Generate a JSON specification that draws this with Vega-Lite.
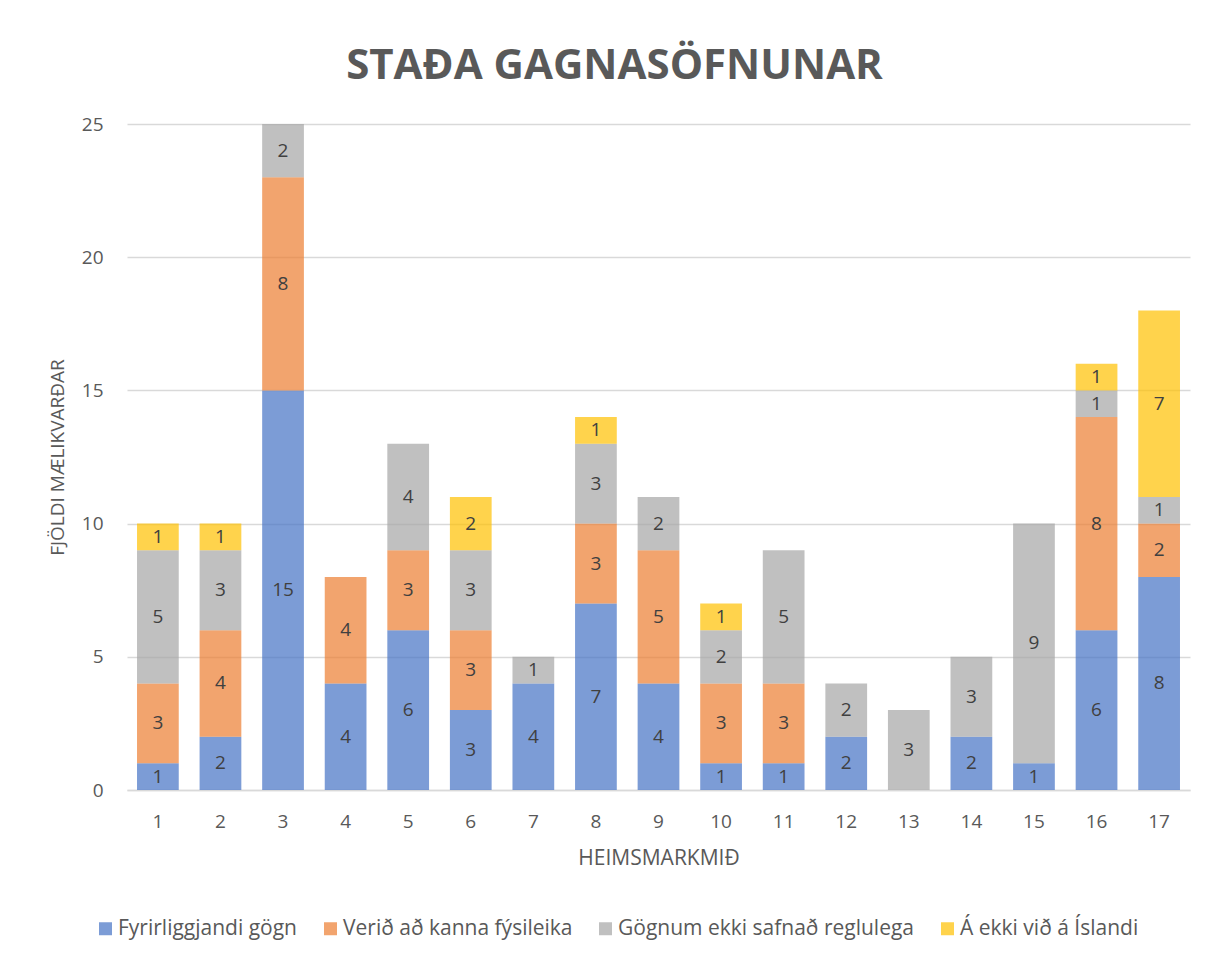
{
  "$schema": "https://vega.github.io/schema/vega-lite/v6.json",
  "width": 1063,
  "height": 666,
  "autosize": {"type": "none"},
  "padding": {"left": 127, "top": 124, "right": 31, "bottom": 170},
  "background": "white",
  "title": {
    "text": "STAÐA GAGNASÖFNUNAR",
    "font": "Open Sans",
    "fontSize": 42,
    "fontWeight": "bold",
    "color": "#595959",
    "anchor": "middle",
    "offset": 27,
    "dx": -44
  },
  "data": {
    "values": [
      {"goal": 1, "series": "Fyrirliggjandi gögn", "value": 1},
      {"goal": 1, "series": "Verið að kanna fýsileika", "value": 3},
      {"goal": 1, "series": "Gögnum ekki safnað reglulega", "value": 5},
      {"goal": 1, "series": "Á ekki við á Íslandi", "value": 1},
      {"goal": 2, "series": "Fyrirliggjandi gögn", "value": 2},
      {"goal": 2, "series": "Verið að kanna fýsileika", "value": 4},
      {"goal": 2, "series": "Gögnum ekki safnað reglulega", "value": 3},
      {"goal": 2, "series": "Á ekki við á Íslandi", "value": 1},
      {"goal": 3, "series": "Fyrirliggjandi gögn", "value": 15},
      {"goal": 3, "series": "Verið að kanna fýsileika", "value": 8},
      {"goal": 3, "series": "Gögnum ekki safnað reglulega", "value": 2},
      {"goal": 4, "series": "Fyrirliggjandi gögn", "value": 4},
      {"goal": 4, "series": "Verið að kanna fýsileika", "value": 4},
      {"goal": 5, "series": "Fyrirliggjandi gögn", "value": 6},
      {"goal": 5, "series": "Verið að kanna fýsileika", "value": 3},
      {"goal": 5, "series": "Gögnum ekki safnað reglulega", "value": 4},
      {"goal": 6, "series": "Fyrirliggjandi gögn", "value": 3},
      {"goal": 6, "series": "Verið að kanna fýsileika", "value": 3},
      {"goal": 6, "series": "Gögnum ekki safnað reglulega", "value": 3},
      {"goal": 6, "series": "Á ekki við á Íslandi", "value": 2},
      {"goal": 7, "series": "Fyrirliggjandi gögn", "value": 4},
      {"goal": 7, "series": "Gögnum ekki safnað reglulega", "value": 1},
      {"goal": 8, "series": "Fyrirliggjandi gögn", "value": 7},
      {"goal": 8, "series": "Verið að kanna fýsileika", "value": 3},
      {"goal": 8, "series": "Gögnum ekki safnað reglulega", "value": 3},
      {"goal": 8, "series": "Á ekki við á Íslandi", "value": 1},
      {"goal": 9, "series": "Fyrirliggjandi gögn", "value": 4},
      {"goal": 9, "series": "Verið að kanna fýsileika", "value": 5},
      {"goal": 9, "series": "Gögnum ekki safnað reglulega", "value": 2},
      {"goal": 10, "series": "Fyrirliggjandi gögn", "value": 1},
      {"goal": 10, "series": "Verið að kanna fýsileika", "value": 3},
      {"goal": 10, "series": "Gögnum ekki safnað reglulega", "value": 2},
      {"goal": 10, "series": "Á ekki við á Íslandi", "value": 1},
      {"goal": 11, "series": "Fyrirliggjandi gögn", "value": 1},
      {"goal": 11, "series": "Verið að kanna fýsileika", "value": 3},
      {"goal": 11, "series": "Gögnum ekki safnað reglulega", "value": 5},
      {"goal": 12, "series": "Fyrirliggjandi gögn", "value": 2},
      {"goal": 12, "series": "Gögnum ekki safnað reglulega", "value": 2},
      {"goal": 13, "series": "Gögnum ekki safnað reglulega", "value": 3},
      {"goal": 14, "series": "Fyrirliggjandi gögn", "value": 2},
      {"goal": 14, "series": "Gögnum ekki safnað reglulega", "value": 3},
      {"goal": 15, "series": "Fyrirliggjandi gögn", "value": 1},
      {"goal": 15, "series": "Gögnum ekki safnað reglulega", "value": 9},
      {"goal": 16, "series": "Fyrirliggjandi gögn", "value": 6},
      {"goal": 16, "series": "Verið að kanna fýsileika", "value": 8},
      {"goal": 16, "series": "Gögnum ekki safnað reglulega", "value": 1},
      {"goal": 16, "series": "Á ekki við á Íslandi", "value": 1},
      {"goal": 17, "series": "Fyrirliggjandi gögn", "value": 8},
      {"goal": 17, "series": "Verið að kanna fýsileika", "value": 2},
      {"goal": 17, "series": "Gögnum ekki safnað reglulega", "value": 1},
      {"goal": 17, "series": "Á ekki við á Íslandi", "value": 7}
    ]
  },
  "transform": [
    {"calculate": "indexof(['Fyrirliggjandi gögn','Verið að kanna fýsileika','Gögnum ekki safnað reglulega','Á ekki við á Íslandi'], datum.series)", "as": "ord"},
    {"stack": "value", "groupby": ["goal"], "sort": [{"field": "ord", "order": "ascending"}], "as": ["v0", "v1"]},
    {"calculate": "(datum.v0 + datum.v1) / 2", "as": "mid"}
  ],
  "encoding": {
    "x": {
      "field": "goal",
      "type": "ordinal",
      "scale": {"paddingInner": 0.333, "paddingOuter": 0.16},
      "axis": {
        "title": "HEIMSMARKMIÐ",
        "labelAngle": 0,
        "labelFont": "Open Sans",
        "labelFontSize": 19,
        "labelColor": "#595959",
        "labelPadding": 22,
        "ticks": false,
        "domainColor": "#D9D9D9",
        "domainWidth": 1.5,
        "titleFont": "Open Sans",
        "titleFontSize": 21,
        "titleFontWeight": "normal",
        "titleColor": "#595959",
        "titlePadding": 16
      }
    }
  },
  "layer": [
    {
      "mark": {"type": "bar", "opacity": 0.7},
      "encoding": {
        "y": {
          "field": "v0",
          "type": "quantitative",
          "scale": {"domain": [0, 25], "nice": false, "zero": true},
          "axis": {
            "title": "FJÖLDI MÆLIKVARÐAR",
            "values": [0, 5, 10, 15, 20, 25],
            "domain": false,
            "ticks": false,
            "gridColor": "#D9D9D9",
            "gridWidth": 1.3,
            "labelFont": "Open Sans",
            "labelFontSize": 19,
            "labelColor": "#595959",
            "labelPadding": 24,
            "titleFont": "Open Sans",
            "titleFontSize": 19,
            "titleFontWeight": "normal",
            "titleColor": "#595959",
            "titlePadding": 14
          }
        },
        "y2": {"field": "v1"},
        "color": {
          "field": "series",
          "type": "nominal",
          "sort": ["Fyrirliggjandi gögn", "Verið að kanna fýsileika", "Gögnum ekki safnað reglulega", "Á ekki við á Íslandi"],
          "scale": {
            "domain": ["Fyrirliggjandi gögn", "Verið að kanna fýsileika", "Gögnum ekki safnað reglulega", "Á ekki við á Íslandi"],
            "range": ["#4472C4", "#ED7D31", "#A5A5A5", "#FFC000"]
          },
          "legend": {
            "title": null,
            "orient": "none",
            "legendX": -32,
            "legendY": 794,
            "direction": "horizontal",
            "symbolType": "square",
            "symbolSize": 169,
            "symbolOpacity": 0.7,
            "symbolStrokeWidth": 0,
            "labelFont": "Open Sans",
            "labelFontSize": 21,
            "labelColor": "#595959",
            "labelLimit": 500,
            "labelOffset": 2,
            "columnPadding": 22
          }
        }
      }
    },
    {
      "mark": {"type": "text", "font": "Open Sans", "fontSize": 19, "color": "#404040", "baseline": "middle"},
      "encoding": {
        "y": {"field": "mid", "type": "quantitative", "scale": {"domain": [0, 25], "nice": false}},
        "text": {"field": "value", "type": "quantitative"}
      }
    }
  ],
  "config": {"view": {"stroke": null}}
}
